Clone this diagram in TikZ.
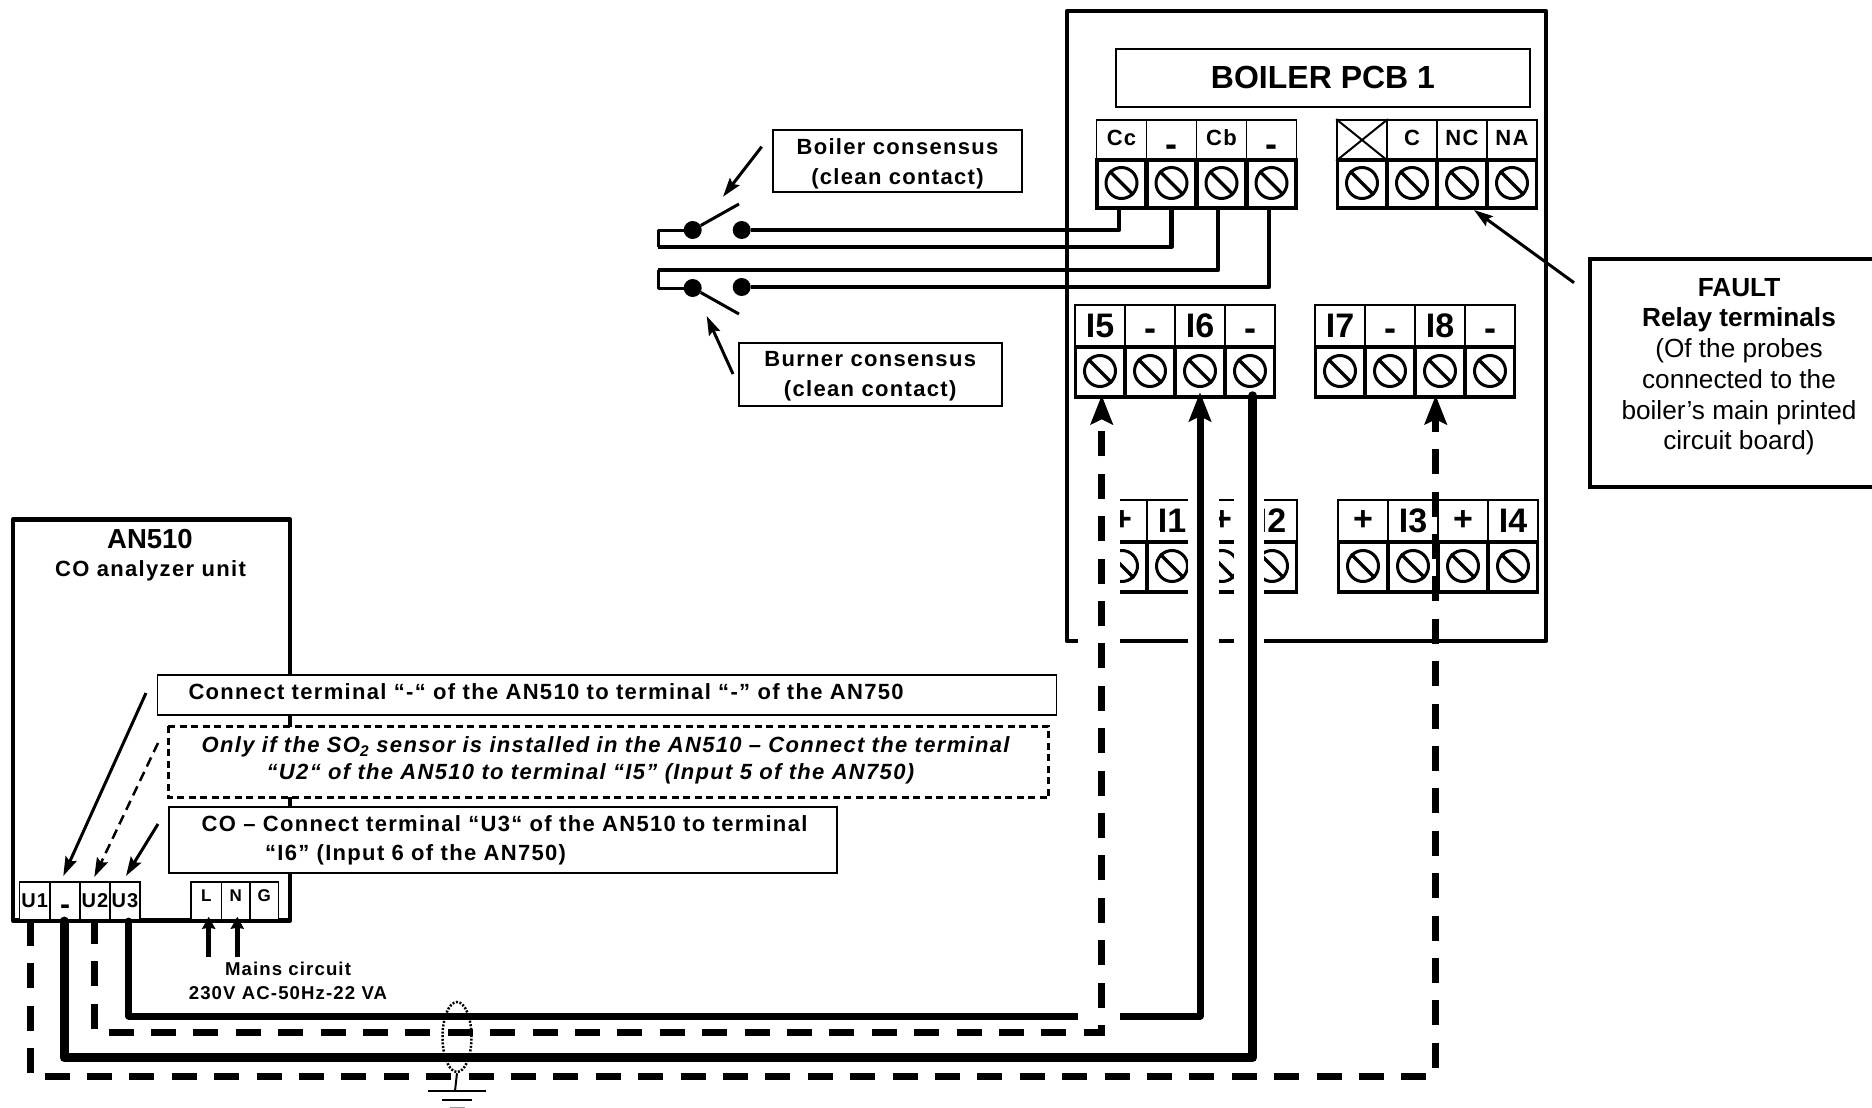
\documentclass[tikz,border=0pt]{standalone}
\usepackage{fontspec}
\setmainfont{Liberation Sans}
\newfontfamily\spaced[LetterSpace=6]{Liberation Sans}
\usetikzlibrary{arrows.meta,shapes.geometric,calc}
\newcommand{\fsz}[2]{\fontsize{#1}{#2}\selectfont}
\newcommand{\lowdash}{{\fsz{36}{36}\raisebox{-16.7pt}[12pt][12pt]{-}}}
\newcommand{\middash}{{\fsz{36}{36}\raisebox{-14pt}[12pt][12pt]{-}}}
\newcommand{\upl}[1]{\raisebox{-5.5pt}[15pt][15pt]{#1}}
\newcommand{\upm}[1]{\raisebox{-0.7pt}[15pt][15pt]{#1}}
\tikzset{
  x=1pt,y=-1pt,
  toplab/.style={draw,line width=1.7pt,inner sep=0pt,anchor=center},
  lowcell/.style={draw,line width=3.5pt,inner sep=0pt,anchor=center},
  screw/.style={draw,circle,line width=3pt,inner sep=0pt,minimum size=31pt},
  slot/.style={line width=3.5pt},
  thinbox/.style={draw,line width=1.6pt,fill=white,inner sep=0pt,align=center},
  txtbox/.style={draw,line width=1.6pt,fill=white,inner xsep=0pt,inner ysep=0pt,align=left},
  frame/.style={line width=4.5pt,line join=round},
  lead/.style={line width=3pt,-{Stealth[length=19pt,width=12pt,inset=3pt]}},
  sig/.style={line width=4.2pt,line join=round},
  dot/.style={circle,fill=black,inner sep=0pt,minimum size=18pt},
  solidwire/.style={line width=#1,line join=round,line cap=round},
  dashwire/.style={line width=7pt,line join=miter,dash pattern=on 25pt off 17.4pt},
  bighead/.style={-{Stealth[length=29pt,width=22pt,inset=5pt]}},
  spacedb/.style={font={\spaced\bfseries\fsz{#1}{30}}},
}
% name, x0, ytop, h1, h2, w, label font, labels
\newcommand{\tblock}[8]{%
  \foreach \i/\lab in {#8}{%
    \pgfmathsetmacro{\cx}{#2+(\i-1)*#6+#6/2}%
    \pgfmathsetmacro{\cya}{#3+#4/2}%
    \pgfmathsetmacro{\cyb}{#3+#4+#5/2}%
    \node[toplab,minimum width=#6pt,minimum height=#4pt,font={#7}] (#1-top-\i) at (\cx,\cya) {\lab};
    \node[lowcell,minimum width=#6pt-1pt,minimum height=#5pt] (#1-low-\i) at (\cx,\cyb) {};
    \node[screw] (#1-scr-\i) at (\cx,\cyb-1) {};
    \draw[slot] (#1-scr-\i.135) -- (#1-scr-\i.-45);
  }%
}
\begin{document}
\begin{tikzpicture}
\useasboundingbox (0,0) rectangle (1872,1108);
\clip (0,0) rectangle (1872,1108);

% boiler board
\node[draw,frame,minimum width=479pt,minimum height=630pt,inner sep=0pt] (boiler) at (1306.5,326) {};
\node[thinbox,minimum width=414pt,minimum height=58pt,font={\bfseries\fsz{32}{36}}] (title) at (1323,78) {\raisebox{1.2pt}{BOILER PCB 1}};

\tblock{cc}{1096.5}{120}{40}{48}{50}{\spaced\bfseries\fsz{22}{24}}{1/\upl{Cc},2/\lowdash,3/\upl{Cb},4/\lowdash}
\tblock{rl}{1337}{120}{40}{48}{50}{\spaced\bfseries\fsz{22}{24}}{1/,2/\upl{C},3/\upl{NC},4/\upl{NA}}
\draw[line width=2pt] (rl-top-1.north west) -- (rl-top-1.south east);
\draw[line width=2pt] (rl-top-1.south west) -- (rl-top-1.north east);
\tblock{ia}{1075}{305}{42}{50}{50}{\bfseries\fsz{34}{36}}{1/I5,2/\middash,3/I6,4/\middash}
\tblock{ib}{1315}{305}{42}{50}{50}{\bfseries\fsz{34}{36}}{1/I7,2/\middash,3/I8,4/\middash}
\tblock{ic}{1097}{500}{42}{50}{50}{\bfseries\fsz{34}{36}}{1/+,2/I1,3/+,4/I2}
\tblock{id}{1338}{500}{42}{50}{50}{\bfseries\fsz{34}{36}}{1/+,2/I3,3/+,4/I4}

% white gaps left around the wires
\fill[white] (1188,495) rectangle (1219,650);
\fill[white] (1234,495) rectangle (1264,650);

% FAULT
\node[draw,line width=4.5pt,fill=white,inner sep=0pt,minimum width=298pt,minimum height=228pt,align=center,font={\fsz{26.2}{30.7}}] (fault) at (1739,373)
  {\bfseries FAULT\\\bfseries Relay terminals\\(Of the probes\\connected to the\\boiler’s main printed\\circuit board)\rule[-18pt]{0pt}{1pt}};
\coordinate (faultlead) at (1574,282.7);
\coordinate (rltip) at (1474,210);
\draw[lead] (faultlead) -- (rltip);

% consensus labels and switches
\node[thinbox,minimum width=249pt,minimum height=62pt,spacedb=22] (boilerc) at (897.5,161) {\rule{0pt}{21pt}Boiler consensus\\(clean contact)};
\node[thinbox,minimum width=263pt,minimum height=63pt,spacedb=22] (burnerc) at (870.2,374.3) {\rule{0pt}{19pt}Burner consensus\\(clean contact)};
\node[dot] (s1l) at (692.7,230) {};
\node[dot] (s1r) at (741.7,230) {};
\node[dot] (s2l) at (692.7,288) {};
\node[dot] (s2r) at (741.7,287) {};
\coordinate (b1) at (739,204);
\coordinate (b2) at (739,314);
\coordinate (loop1) at (658,247);
\coordinate (loop2) at (658,270);
\coordinate (a1s) at (761.7,146.7);
\coordinate (a1e) at (723,196.7);
\coordinate (a2s) at (733,374);
\coordinate (a2e) at (706.7,316);
\draw[lead] (a1s) -- (a1e);
\draw[lead] (a2s) -- (a2e);
\draw[line width=3pt] (s1l) -- (b1);
\draw[line width=3pt] (s2l) -- (b2);
\draw[sig] ([xshift=-2.5pt]cc-low-1.south) |- (s1r);
\draw[sig] ([xshift=0pt]cc-low-2.south) |- (loop1);
\draw[sig] ([xshift=-3.5pt]cc-low-3.south) |- (loop2);
\draw[sig] ([xshift=-2.5pt]cc-low-4.south) |- (s2r);
\draw[line width=3pt,line join=round] (loop1) |- (s1l);
\draw[line width=3pt,line join=round] (loop2) |- (s2l);

% AN510
\node[draw,frame,minimum width=277pt,minimum height=401pt,inner sep=0pt] (an) at (151.5,720) {};
\node[font={\bfseries\fsz{27.5}{30}},inner sep=0pt] (anname) at (150,539) {AN510};
\node[font={\spaced\bfseries\fsz{22}{26}},inner sep=0pt] (ansub) at (150.5,570.5) {CO analyzer unit};

\tikzset{ucell/.style={draw,line width=1.6pt,fill=white,inner sep=0pt,minimum height=38.5pt,minimum width=#1,font={\spaced\bfseries\fsz{20}{22}}}}
\node[ucell=30.7pt] (U1) at (34.7,901) {U1};
\node[ucell=30pt] (um) at (65,901) {\raisebox{-13pt}[12pt][12pt]{\fsz{30}{30}-}};
\node[ucell=30pt] (U2) at (95,901) {U2};
\node[ucell=30pt] (U3) at (125,901) {U3};
\tikzset{pcell/.style={draw,line width=1.6pt,fill=white,inner sep=0pt,minimum height=38.5pt,minimum width=#1,font={\spaced\bfseries\fsz{17}{20}}}}
\node[pcell=30.7pt] (L) at (206.3,901) {\upm{L}};
\node[pcell=28.3pt] (N) at (235.8,901) {\upm{N}};
\node[pcell=28.7pt] (G) at (264.3,901) {\upm{G}};

\node[txtbox,minimum height=40pt,text width=899pt,spacedb=22] (note1) at (607,695) {\hspace*{31pt}Connect terminal “-“ of the AN510 to terminal “-” of the AN750\rule[-7pt]{0pt}{1pt}};
\node[txtbox,draw=none,fill=white,minimum height=70pt,text width=879pt,font={\spaced\bfseries\itshape\fsz{22}{27}}] (note2) at (608.5,762)
  {\hspace*{32.7pt}Only if the SO\textsubscript{2} sensor is installed in the AN510 – Connect the terminal\\\hspace*{97.7pt}“U2“ of the AN510 to terminal “I5” (Input 5 of the AN750)\rule[-7pt]{0pt}{1pt}};
\draw[line width=3pt,dash pattern=on 7pt off 4.5pt] (note2.north west) rectangle (note2.south east);
\node[txtbox,minimum height=66pt,text width=668pt,font={\spaced\bfseries\fsz{22}{29}}] (note3) at (503,840)
  {\hspace*{32.7pt}CO – Connect terminal “U3“ of the AN510 to terminal\\\hspace*{96pt}“I6” (Input 6 of the AN750)};

\coordinate (n1s) at (146,693);
\coordinate (n2s) at (158,743);
\coordinate (n3s) at (158,824);
\draw[lead] (n1s) -- ([xshift=-1.7pt,yshift=5pt]um.north);
\draw[lead,line width=2.5pt,dash pattern=on 10pt off 6pt] (n2s) -- ([xshift=-0.7pt,yshift=4pt]U2.north);
\draw[lead] (n3s) -- ([xshift=1pt,yshift=5pt]U3.north);

% mains
\tikzset{mainsarrow/.style={line width=5pt,-{Stealth[length=12pt,width=13pt,inset=1pt]}}}
\coordinate (Lfrom) at (208.7,956.7);
\coordinate (Nfrom) at (237.3,956.7);
\draw[mainsarrow] (Lfrom) -- (208.7,916.7);
\draw[mainsarrow] (Nfrom) -- (237.3,916.7);
\node[align=center,inner sep=0pt,font={\spaced\bfseries\fsz{18.6}{24.5}}] (mains) at (288,981) {Mains circuit\\230V AC-50Hz-22 VA};

% wires
\coordinate (wire6) at (600,1016);
\coordinate (wire5) at (600,1032);
\coordinate (wirem) at (600,1057.7);
\coordinate (wire8) at (600,1076);
\draw[solidwire=7pt,bighead] ([xshift=3.7pt,yshift=0pt]U3.south) |- (wire6) -| ([yshift=6.5pt]ia-low-3.south);
\fill[white] (1078,495) rectangle (1120,1026);
\draw[dashwire,bighead] ([xshift=-0.7pt,yshift=2pt]U2.south) |- (wire5) -| ([xshift=1.7pt,yshift=3.5pt]ia-low-1.south);
\draw[solidwire=9pt] ([xshift=-1pt,yshift=0pt]um.south) |- (wirem) -| ([xshift=2.7pt,yshift=3pt]ia-low-4.south);
\draw[dashwire,bighead] ([xshift=-4.7pt,yshift=0pt]U1.south) |- (wire8) -| ([xshift=-4.3pt,yshift=3.5pt]ib-low-3.south);

% shield and earth
\node[draw,ellipse,line width=2.5pt,dash pattern=on 2pt off 1.6pt,inner sep=0pt,minimum width=29pt,minimum height=70pt] (shield) at (457,1037) {};
\coordinate (earth) at (455,1091);
\draw[line width=2pt] (shield.south) -- (earth);
\draw[line width=2pt] (427.7,1091) -- (486,1091);
\draw[line width=2pt] (442,1100) -- (471.7,1100);
\draw[line width=2pt,black!40] (450,1107.5) -- (465,1107.5);
\end{tikzpicture}
\end{document}
